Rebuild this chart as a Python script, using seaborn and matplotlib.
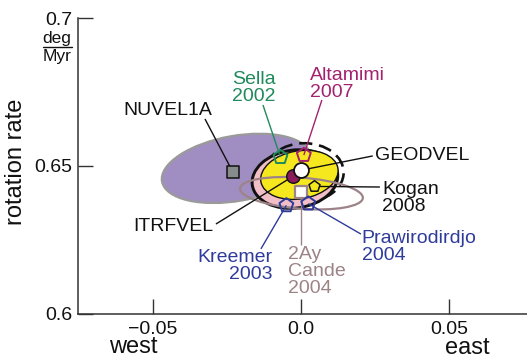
import matplotlib
matplotlib.use("Agg")
import matplotlib.pyplot as plt
from matplotlib.patches import Ellipse
from matplotlib.lines import Line2D
import seaborn as sns

# ---- data -------------------------------------------------------------
# Pole estimates: east component (deg/Myr) and rotation rate (deg/Myr)
models = ["NUVEL1A", "GEODVEL", "ITRFVEL", "Kogan 2008", "Cande 2004",
          "Sella 2002", "Altamimi 2007", "Kreemer 2003", "Prawirodirdjo 2004"]
east = [-0.0230, 0.0002, -0.0025, 0.0045, 0.0002,
        -0.0069, 0.0010, -0.0049, 0.0025]
rate = [0.6480, 0.6486, 0.6466, 0.6431, 0.6411,
        0.6530, 0.6537, 0.6367, 0.6373]

# Error ellipses: centre, full width/height and orientation
ell_names = ["NUVEL1A", "ITRFVEL", "GEODVEL", "Kogan 2008", "Cande 2004"]
ell_east = [-0.0218, -0.0020, -0.0005, 0.0012, 0.0002]
ell_rate = [0.6492, 0.6456, 0.6470, 0.6478, 0.6408]
ell_width = [0.0510, 0.0291, 0.0264, 0.0265, 0.0416]
ell_height = [0.0220, 0.0196, 0.0162, 0.0198, 0.0105]
ell_angle = [10, 8, 10, 0, -4.5]

x_ticks = [-0.05, 0.0, 0.05]
x_ticklabels = ["\u22120.05", "0.0", "0.05"]
y_ticks = [0.6, 0.65, 0.7]
y_ticklabels = ["0.6", "0.65", "0.7"]

# ---- styling ------------------------------------------------------------
sns.set_style("ticks")
plt.rcParams["font.family"] = ["Liberation Sans", "DejaVu Sans"]

BLACK = "#111111"
GREEN = "#1f8a5b"
MAGENTA = "#a3216e"
BLUE = "#2f3b9b"
ROSE = "#9d8387"

ell_style = {
    "NUVEL1A": dict(fc="#a08ec2", ec="#9a9a9a", lw=1.6, ls="-", z=1),
    "Kogan 2008": dict(fc="none", ec=BLACK, lw=1.9, ls=(0, (5, 2.6)), z=2),
    "ITRFVEL": dict(fc="#f2bfc8", ec=BLACK, lw=2.1, ls="-", z=3),
    "GEODVEL": dict(fc="#f6e81f", ec=BLACK, lw=1.0, ls="-", z=4),
    "Cande 2004": dict(fc="none", ec=ROSE, lw=1.6, ls="-", z=5),
}

marker_style = {
    "NUVEL1A": dict(marker="s", s=80, color="#868c8c", edgecolor=BLACK, lw=1.1),
    "GEODVEL": dict(marker="o", s=115, color="white", edgecolor=BLACK, lw=1.3),
    "ITRFVEL": dict(marker="o", s=95, color="#8a1c5c", edgecolor=BLACK, lw=1.0),
    "Kogan 2008": dict(marker="p", s=70, color="#f6e81f", edgecolor=BLACK, lw=1.1),
    "Cande 2004": dict(marker="s", s=75, color="white", edgecolor=ROSE, lw=1.6),
    "Sella 2002": dict(marker="p", s=110, facecolor="none", edgecolor=GREEN, lw=1.4),
    "Altamimi 2007": dict(marker="p", s=110, facecolor="none", edgecolor=MAGENTA, lw=1.4),
    "Kreemer 2003": dict(marker="p", s=110, facecolor="none", edgecolor=BLUE, lw=1.4),
    "Prawirodirdjo 2004": dict(marker="p", s=110, facecolor="none", edgecolor=BLUE, lw=1.4),
}
marker_z = {"NUVEL1A": 8, "Cande 2004": 8, "Kogan 2008": 8,
            "ITRFVEL": 9, "GEODVEL": 10}

# label text, anchor, alignment, colour, leader-line start
labels = {
    "NUVEL1A": ("NUVEL1A", (-0.0449, 0.6689), "center", BLACK, (-0.0324, 0.6659)),
    "Sella 2002": ("Sella\n2002", (-0.0233, 0.6765), "left", GREEN, (-0.0128, 0.6706)),
    "Altamimi 2007": ("Altamimi\n2007", (0.0030, 0.6777), "left", MAGENTA, (0.0071, 0.6723)),
    "GEODVEL": ("GEODVEL", (0.0250, 0.6537), "left", BLACK, (0.0243, 0.6534)),
    "Kogan 2008": ("Kogan\n2008", (0.0274, 0.6392), "left", BLACK, (0.0267, 0.6429)),
    "Prawirodirdjo 2004": ("Prawirodirdjo\n2004", (0.0206, 0.6226), "left", BLUE, (0.0203, 0.6270)),
    "Cande 2004": ("2Ay\nCande\n2004", (-0.0044, 0.6144), "left", ROSE, (0.0002, 0.6233)),
    "Kreemer 2003": ("Kreemer\n2003", (-0.0095, 0.6162), "right", BLUE, (-0.0135, 0.6220)),
    "ITRFVEL": ("ITRFVEL", (-0.0297, 0.6294), "right", BLACK, (-0.0287, 0.6304)),
}

# ---- figure -------------------------------------------------------------
W, H = 527, 362
fig = plt.figure(figsize=(W / 100, H / 100), dpi=100)
ax = fig.add_axes([78 / W, 48 / H, 449 / W, 296 / H])

for n, cx, cy, w, h, a in zip(ell_names, ell_east, ell_rate, ell_width, ell_height, ell_angle):
    st = ell_style[n]
    ax.add_patch(Ellipse((cx, cy), w, h, angle=a, facecolor=st["fc"], edgecolor=st["ec"],
                         linewidth=st["lw"], linestyle=st["ls"], zorder=st["z"]))

pos = dict(zip(models, zip(east, rate)))

# leader lines from labels to the pole markers
for n, (txt, (tx, ty), ha, col, (lx, ly)) in labels.items():
    px, py = pos[n]
    ax.plot([lx, px], [ly, py], color=col, lw=1.0, zorder=6, solid_capstyle="butt")
    ax.text(tx, ty, txt, ha=ha, va="center", color=col, fontsize=14,
            linespacing=1.0, zorder=12)

for n in models:
    st = dict(marker_style[n])
    lw = st.pop("lw")
    sns.scatterplot(x=[pos[n][0]], y=[pos[n][1]], ax=ax, linewidth=lw,
                    zorder=marker_z.get(n, 11), legend=False, **st)

ax.set_xlim(-0.0753, 0.0764)
ax.set_ylim(0.6, 0.7)
ax.set_xticks(x_ticks)
ax.set_xticklabels(x_ticklabels)
ax.set_yticks(y_ticks)
ax.set_yticklabels(y_ticklabels)
ax.set_xlabel("")
ax.set_ylabel("")
ax.tick_params(direction="in", length=11, width=1.0, color="#333333",
               labelsize=14, pad=4, labelcolor=BLACK)
ax.tick_params(axis="x", pad=5)
for side in ("top", "right"):
    ax.spines[side].set_visible(False)
for side in ("left", "bottom"):
    ax.spines[side].set_color("#333333")
    ax.spines[side].set_linewidth(1.1)
ax.set_facecolor("white")

# axis words and unit fraction
fig.text(16 / W, 1 - 162 / H, "rotation rate", rotation=90, ha="center",
         va="center", fontsize=17, color=BLACK)
fig.text(133 / W, 1 - 347 / H, "west", ha="center", va="center", fontsize=17, color=BLACK)
fig.text(467 / W, 1 - 348 / H, "east", ha="center", va="center", fontsize=17, color=BLACK)
fig.text(57 / W, 1 - 38 / H, "deg", ha="center", va="center", fontsize=12.5, color=BLACK)
fig.text(57 / W, 1 - 56 / H, "Myr", ha="center", va="center", fontsize=12.5, color=BLACK)
fig.add_artist(Line2D([43 / W, 72 / W], [1 - 47 / H, 1 - 47 / H],
                      transform=fig.transFigure, color=BLACK, lw=1.0))

fig.savefig("out.png", dpi=100)
